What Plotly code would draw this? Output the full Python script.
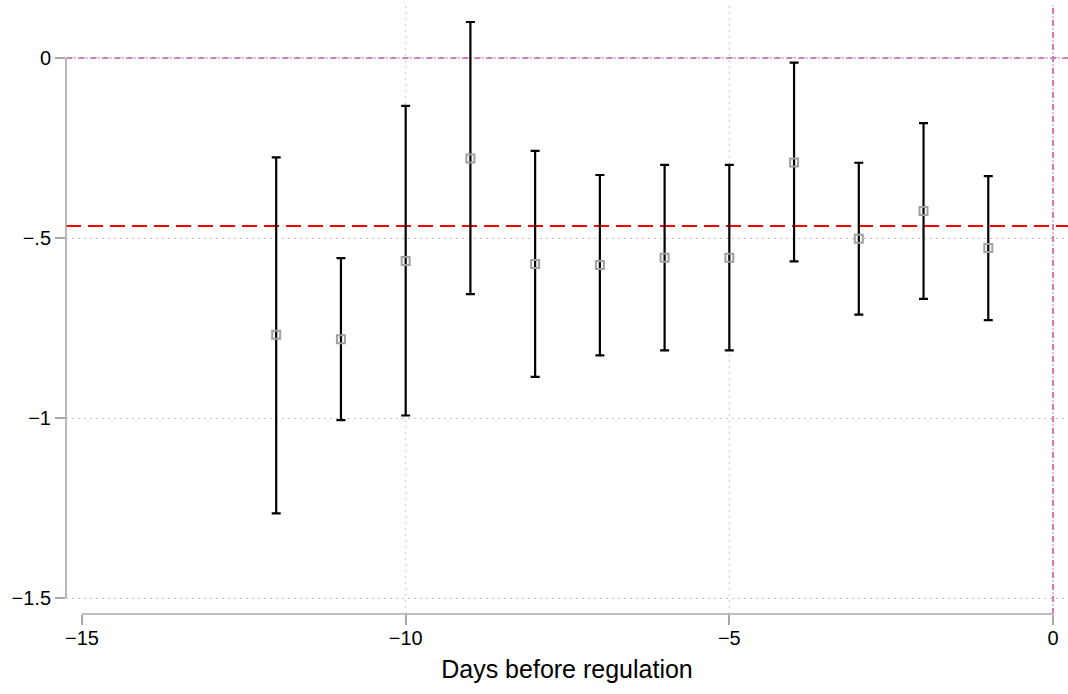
import plotly.graph_objects as go

# ---- data ----
days = [-12, -11, -10, -9, -8, -7, -6, -5, -4, -3, -2, -1]
estimate = [-0.769, -0.781, -0.564, -0.279, -0.572, -0.575, -0.555, -0.555, -0.290, -0.502, -0.425, -0.528]
ci_upper = [-0.276, -0.556, -0.133, 0.100, -0.258, -0.325, -0.297, -0.297, -0.013, -0.291, -0.181, -0.328]
ci_lower = [-1.265, -1.006, -0.993, -0.656, -0.886, -0.826, -0.812, -0.812, -0.565, -0.713, -0.669, -0.728]
mean_effect = -0.467
reference_x = 0
reference_y = 0

x_ticks = [-15, -10, -5, 0]
x_ticklabels = ["\u221215", "\u221210", "\u22125", "0"]
x_grid = [-10, -5]
y_ticks = [0, -0.5, -1, -1.5]
y_ticklabels = ["0", "\u2212.5", "\u22121", "\u22121.5"]

# ---- styles ----
AXIS_GRAY = "#a8a8a8"
GRID_GRAY = "#c4c4c4"
PINK = "#d67ab3"
FONT = "Liberation Sans, Arial, Helvetica, sans-serif"

err_plus = [u - e for u, e in zip(ci_upper, estimate)]
err_minus = [e - l for e, l in zip(estimate, ci_lower)]

fig = go.Figure()
fig.add_trace(go.Scatter(
    x=days, y=estimate, mode="markers",
    marker=dict(symbol="square-open", size=8, color="#a0a0a0", line=dict(width=2)),
    error_y=dict(type="data", symmetric=False, array=err_plus, arrayminus=err_minus,
                 color="black", thickness=2.2, width=4.5),
    showlegend=False, hoverinfo="x+y",
))

shapes = []
for gx in x_grid:
    shapes.append(dict(type="line", xref="x", yref="paper", x0=gx, x1=gx, y0=0, y1=1,
                       line=dict(color=GRID_GRAY, width=1.2, dash="1.5px,4.5px"), layer="below"))
# mean line
shapes.append(dict(type="line", xref="paper", yref="y", x0=0, x1=1, y0=mean_effect, y1=mean_effect,
                   line=dict(color="#ff0000", width=2, dash="15px,7px"), layer="below"))
# reference lines
shapes.append(dict(type="line", xref="paper", yref="y", x0=0, x1=1, y0=reference_y, y1=reference_y,
                   line=dict(color=PINK, width=2, dash="6px,2.5px,1px,2.5px"), layer="below"))
shapes.append(dict(type="line", xref="x", yref="paper", x0=reference_x, x1=reference_x, y0=0, y1=1,
                   line=dict(color=PINK, width=2, dash="6px,2.5px,1px,2.5px"), layer="below"))
# axis lines (Stata style, spanning tick range only)
shapes.append(dict(type="line", xref="x", yref="paper", x0=x_ticks[0], x1=x_ticks[-1], y0=0, y1=0,
                   line=dict(color=AXIS_GRAY, width=1.6)))
shapes.append(dict(type="line", xref="paper", yref="y", x0=0, x1=0, y0=y_ticks[-1], y1=y_ticks[0],
                   line=dict(color=AXIS_GRAY, width=1.6)))

fig.update_layout(
    width=1068, height=694,
    margin=dict(l=66, r=0, t=5, b=80, autoexpand=False),
    paper_bgcolor="white", plot_bgcolor="white",
    font=dict(family=FONT, color="black"),
    shapes=shapes,
    xaxis=dict(
        range=[-15.2472, 0.2317], tickmode="array", tickvals=x_ticks, ticktext=x_ticklabels,
        ticks="outside", ticklen=10, tickwidth=1.5, tickcolor=AXIS_GRAY,
        showgrid=False, zeroline=False, showline=False, automargin=False,
        ticklabelstandoff=-4,
        tickfont=dict(size=20, family=FONT, color="black"),
        title=dict(text="Days before regulation", font=dict(size=25, family=FONT, color="black"), standoff=12),
    ),
    yaxis=dict(
        range=[-1.5444, 0.1472], tickmode="array", tickvals=y_ticks, ticktext=y_ticklabels,
        ticks="outside", ticklen=10, tickwidth=1.5, tickcolor=AXIS_GRAY,
        showgrid=True, gridcolor=GRID_GRAY, gridwidth=1.2, griddash="1.5px,4.5px",
        zeroline=False, showline=False, automargin=False,
        tickfont=dict(size=20, family=FONT, color="black"),
    ),
)

fig.write_html("out.html")
